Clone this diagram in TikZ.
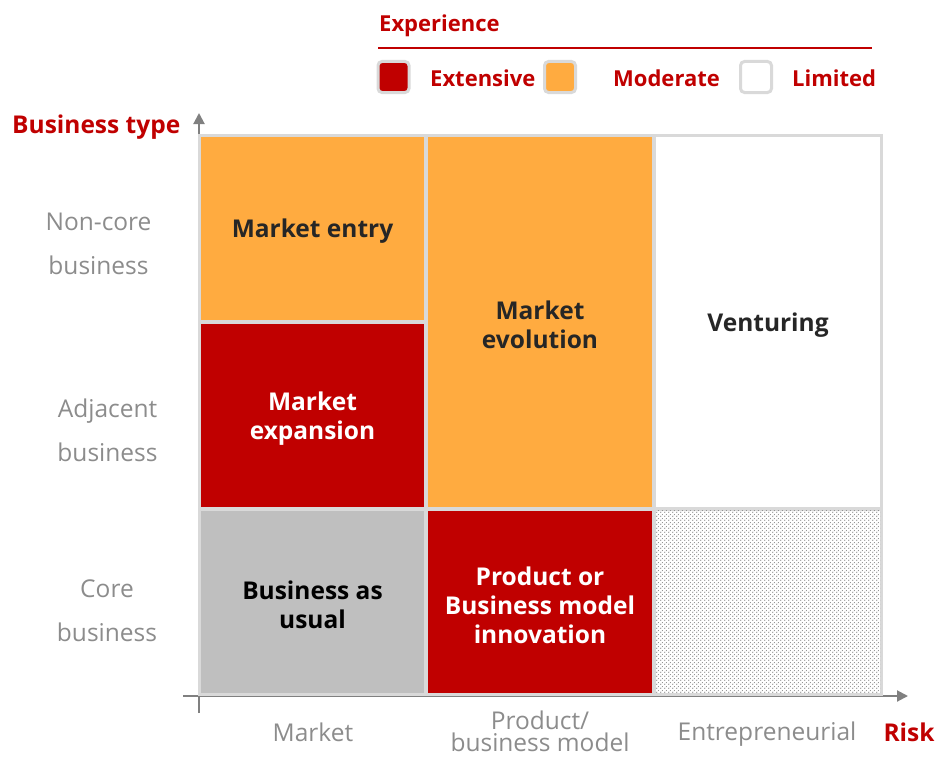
\documentclass[tikz,border=0pt]{standalone}
\usepackage{fontspec}
\setmainfont{Open Sans}
\usetikzlibrary{patterns,arrows.meta}
\definecolor{cred}{HTML}{C00000}
\definecolor{corange}{HTML}{FFAB40}
\definecolor{cgrid}{HTML}{D9D9D9}
\definecolor{cgray}{HTML}{BFBFBF}
\definecolor{ctext}{HTML}{262626}
\definecolor{clabel}{HTML}{8C8C8C}
\definecolor{caxis}{HTML}{808080}
\definecolor{cdot}{HTML}{8A8A8A}
\pgfdeclarepatternformonly{hdots}{\pgfpointorigin}{\pgfpoint{4pt}{4pt}}{\pgfpoint{4pt}{4pt}}{%
  \pgfpathcircle{\pgfpoint{1pt}{1pt}}{0.85pt}%
  \pgfpathcircle{\pgfpoint{3pt}{3pt}}{0.65pt}%
  \pgfusepath{fill}}
\tikzset{
  cell/.style={inner sep=0pt},
  celltext/.style={inner sep=0pt, align=center, text=ctext, font=\fontsize{24.5}{29}\selectfont\bfseries},
  axlabel/.style={inner sep=0pt, align=center, text=clabel, font=\fontsize{24.5}{44}\selectfont},
  redlabel/.style={inner sep=0pt, anchor=west, text=cred, font=\fontsize{22}{25}\selectfont\bfseries},
  bigred/.style={redlabel, font=\fontsize{24.5}{28}\selectfont\bfseries},
  swatch/.style={draw=cgrid, line width=3pt, rounded corners=4pt, minimum width=31pt, minimum height=31pt, inner sep=0pt},
  axis/.style={caxis, line width=2pt, -{Triangle[length=11pt,width=11pt]}}
}
\begin{document}
\begin{tikzpicture}[x=1pt,y=-1pt]
\useasboundingbox (0,0) rectangle (939,760);
% legend
\node[redlabel] (exp) at (379,26) {Experience};
\coordinate (l1) at (378,48);
\coordinate (l2) at (872,48);
\draw[cred, line width=2pt] (l1) -- (l2);
\node[swatch, fill=cred] (s1) at (393.5,77) {};
\node[redlabel] (t1) at (430,78) {Extensive};
\node[swatch, fill=corange] (s2) at (560,77) {};
\node[redlabel] (t2) at (613,78) {Moderate};
\node[swatch, fill=white] (s3) at (756,77) {};
\node[redlabel] (t3) at (792,78) {Limited};
% axes
\coordinate (o1) at (199,713);
\coordinate (yend) at (199,113);
\coordinate (o2) at (183,696);
\coordinate (xend) at (908,696);
\draw[axis] (o1) -- (yend);
\draw[axis] (o2) -- (xend);
% frame
\fill[cgrid] (198,134) rectangle (883,696);
% cells
\node[cell, fill=corange, minimum width=223pt, minimum height=183pt] (a) at (312.5,228.5) {};
\node[cell, fill=cred, minimum width=223pt, minimum height=183pt] (b) at (312.5,415.5) {};
\node[cell, fill=corange, minimum width=224pt, minimum height=370pt] (c) at (540,322) {};
\node[cell, fill=white, minimum width=224pt, minimum height=370pt] (d) at (768,322) {};
\node[cell, fill=cgray, minimum width=223pt, minimum height=182pt] (e) at (312.5,602) {};
\node[cell, fill=cred, minimum width=224pt, minimum height=182pt] (f) at (540,602) {};
\node[cell, fill=white, minimum width=224pt, minimum height=182pt] (g) at (768,602) {};
\fill[pattern=hdots, pattern color=cdot] (g.south west) rectangle (g.north east);
% cell texts
\node[celltext] (ta) at ([yshift=-3pt]a.center) {Market entry};
\node[celltext, text=white] (tb) at ([yshift=-3pt]b.center) {Market\\expansion};
\node[celltext] (tc) at ([yshift=-3pt]c.center) {Market\\evolution};
\node[celltext] (td) at ([yshift=-3pt]d.center) {Venturing};
\node[celltext, text=black] (te) at ([yshift=-3pt]e.center) {Business as\\usual};
\node[celltext, text=white] (tf) at ([yshift=-3pt]f.center) {Product or\\Business model\\innovation};
% axis titles
\node[bigred] (bt) at (12,127) {Business type};
\node[bigred, anchor=center] (risk) at (909,732) {Risk};
% axis labels
\node[axlabel] (y1) at (98.5,244) {Non-core\\business};
\node[axlabel] (y2) at (107.5,430.5) {Adjacent\\business};
\node[axlabel] (y3) at (107,610.5) {Core\\business};
\node[axlabel] (x1) at (313,732) {Market};
\node[axlabel, anchor=base] (x2a) at (540,729) {Product/};
\node[axlabel, anchor=base] (x2b) at (540,751) {business model};
\node[axlabel] (x3) at (767,734) {Entrepreneurial};
\end{tikzpicture}
\end{document}
